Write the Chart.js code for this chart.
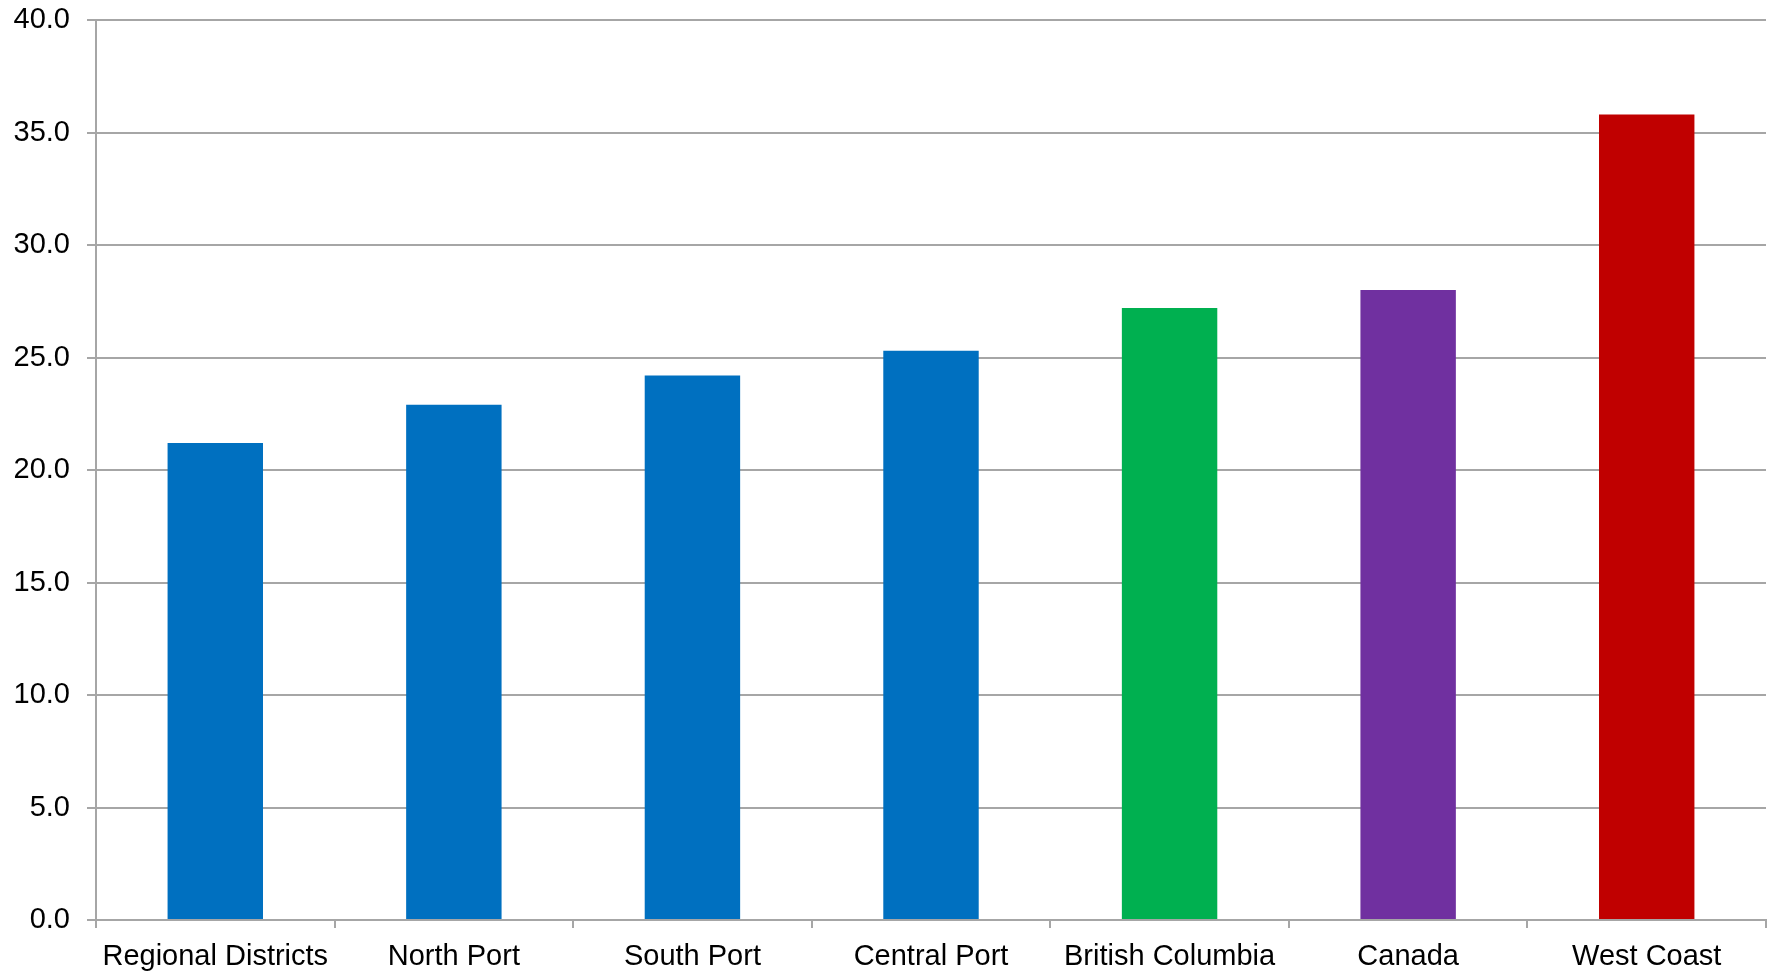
<!DOCTYPE html>
<html>
<head>
<meta charset="utf-8">
<script src="https://cdn.jsdelivr.net/npm/chart.js@4"></script>
<style>
html,body{margin:0;padding:0;background:#fff;}
#wrap{width:1775px;height:973px;position:relative;}
</style>
</head>
<body>
<div id="wrap"><canvas id="c" width="1775" height="973"></canvas></div>
<script>
const categories = ["Regional Districts","North Port","South Port","Central Port","British Columbia","Canada","West Coast"];
const values = [21.2, 22.9, 24.2, 25.3, 27.2, 28.0, 35.8];
const barColors = ["#0070C0","#0070C0","#0070C0","#0070C0","#00B050","#7030A0","#C00000"];
const yTicks = [0,5,10,15,20,25,30,35,40];

const gridColor = "#a6a6a6";
const fontSpec = { family: "'Liberation Sans', Arial, sans-serif", size: 29 };
new Chart(document.getElementById("c"), {
  type: "bar",
  data: {
    labels: categories,
    datasets: [{
      data: values,
      backgroundColor: barColors,
      borderWidth: 0,
      barPercentage: 0.4,
      categoryPercentage: 1.0
    }]
  },
  options: {
    responsive: false,
    animation: false,
    devicePixelRatio: 1,
    layout: { padding: { top: 20, right: 9, left: 0, bottom: 0 } },
    plugins: { legend: { display: false }, tooltip: { enabled: false } },
    scales: {
      x: {
        grid: { display: true, drawOnChartArea: false, drawTicks: true, tickLength: 8, color: gridColor, lineWidth: 2, offset: true },
        border: { display: true, color: gridColor, width: 2 },
        ticks: { color: "#000", font: fontSpec, padding: 12, maxRotation: 0, autoSkip: false },
        afterFit: (s) => { s.height = 53; s.paddingLeft = 0; s.paddingRight = 0; s.paddingTop = 0; s.paddingBottom = 0; }
      },
      y: {
        min: 0, max: 40,
        afterBuildTicks: (s) => { s.ticks = yTicks.map(v => ({ value: v })); },
        grid: { color: gridColor, lineWidth: 2, drawTicks: true, tickLength: 9 },
        border: { display: true, color: gridColor, width: 2 },
        ticks: { color: "#000", font: fontSpec, padding: 17, callback: (v) => Number(v).toFixed(1) },
        afterFit: (s) => { s.width = 96; s.paddingTop = 0; s.paddingBottom = 0; s.paddingLeft = 0; s.paddingRight = 0; }
      }
    }
  }
});
</script>
</body>
</html>
